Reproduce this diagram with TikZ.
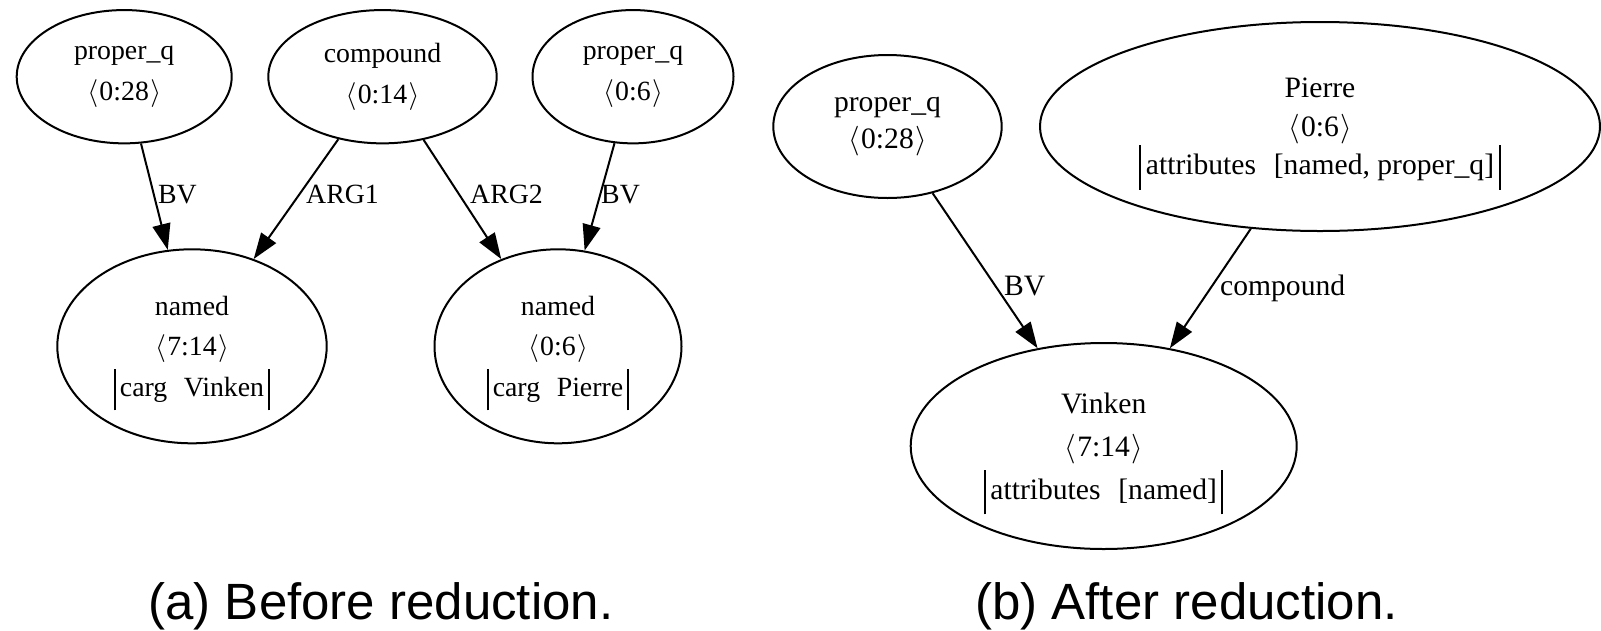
\RequirePackage{fix-cm}
\documentclass[tikz,border=0pt]{standalone}
\usepackage{fontspec}
\setmainfont{Liberation Serif}
\newfontfamily\capfont{Liberation Sans}
\usetikzlibrary{shapes.geometric,arrows.meta}

% vertical bars framing an attribute line (kept out of the node's depth)
\newcommand\attrbar{\rule[-0.5em]{2pt}{1.5em}}
\newcommand\attrline[1]{\smash{\attrbar\hspace{0.15em}#1\hspace{0.15em}\attrbar}}
\newcommand\wgap{\hspace{0.6em}}
\newcommand\charspan[1]{$\langle$\hspace{0.05em}#1\hspace{0.05em}$\rangle$}

\begin{document}
\begin{tikzpicture}[x=1pt,y=-1pt,
  nodeA/.style={ellipse, draw, line width=2pt, inner sep=0pt, align=center,
    font=\fontsize{27.8}{40.6}\selectfont},
  nodeB/.style={ellipse, draw, line width=2pt, inner sep=0pt, align=center,
    font=\fontsize{29.6}{43.2}\selectfont},
  edge/.style={line width=2pt, -{Triangle[length=26pt,width=18pt]}},
  lblA/.style={anchor=base west, inner sep=0pt, font=\fontsize{27.8}{33}\selectfont},
  lblB/.style={anchor=base west, inner sep=0pt, font=\fontsize{29.6}{35}\selectfont},
  caption/.style={anchor=base, inner sep=0pt, font=\capfont\fontsize{51}{60}\selectfont}]

\useasboundingbox (0,0) rectangle (1601,630);

% ---- (a) graph before reduction
\node[nodeA, minimum width=215pt, minimum height=133.3pt] (pqa) at (124.2,76.7)
  {proper\_q\\\charspan{0:28}};
\node[nodeA, minimum width=228.4pt, minimum height=133.3pt] (cmp) at (382.5,76.7)
  {compound\\\charspan{0:14}};
\node[nodeA, minimum width=201pt, minimum height=133.3pt] (pqb) at (633,76.7)
  {proper\_q\\\charspan{0:6}};
\node[nodeA, minimum width=269.4pt, minimum height=194pt] (na1) at (192,346.3)
  {named\\\charspan{7:14}\\\attrline{carg\wgap Vinken}};
\node[nodeA, minimum width=247pt, minimum height=194pt] (na2) at (558,346.3)
  {named\\\charspan{0:6}\\\attrline{carg\wgap Pierre}};

\draw[edge] (pqa) -- (na1);
\draw[edge] (cmp) -- (na1);
\draw[edge] (cmp) -- (na2);
\draw[edge] (pqb) -- (na2);

\node[lblA] (bv1) at (158,203.5) {BV};
\node[lblA] (arg1) at (306,203.5) {ARG1};
\node[lblA] (arg2) at (470,203.5) {ARG2};
\node[lblA] (bv2) at (601,203.5) {BV};

% ---- (b) graph after reduction
\node[nodeB, minimum width=228.4pt, minimum height=143pt,
  font=\fontsize{29.6}{37}\selectfont] (pqc) at (887.5,126.5)
  {proper\_q\\\charspan{0:28}};
\node[nodeB, minimum width=560pt, minimum height=209pt,
  font=\fontsize{29.6}{38.5}\selectfont] (pierre) at (1320,126.5)
  {Pierre\\\charspan{0:6}\\\attrline{attributes\wgap [named, proper\_q]}};
\node[nodeB, minimum width=386pt, minimum height=206pt] (vinken) at (1103.7,446)
  {Vinken\\\charspan{7:14}\\\attrline{attributes\wgap [named]}};

\draw[edge] (pqc) -- (vinken);
\draw[edge] (pierre) -- (vinken);

\node[lblB] (bv3) at (1004,295) {BV};
\node[lblB] (cmpl) at (1220,295) {compound};

% ---- captions
\node[caption] (capa) at (381,619.3) {(a) Before reduction.};
\node[caption] (capb) at (1186.5,619.3) {(b) After reduction.};
\end{tikzpicture}
\end{document}
